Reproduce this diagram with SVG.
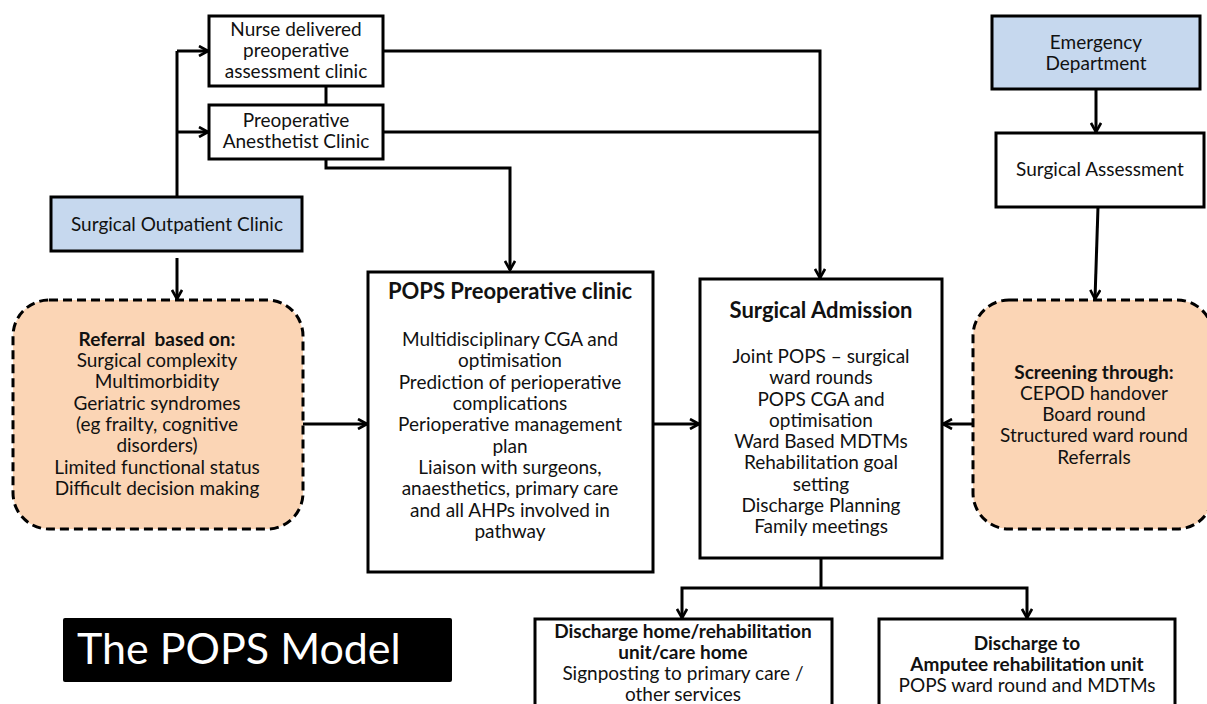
<svg xmlns="http://www.w3.org/2000/svg" width="1207" height="704" viewBox="0 0 1207 704">
<style>
text{font-family:Lato,"Liberation Sans",sans-serif;font-size:19px;fill:#111;text-anchor:middle}
.b{font-weight:bold}
.t{font-size:22px;font-weight:bold}
.box{fill:#fff;stroke:#000;stroke-width:3}
.blue{fill:#c6d8ee;stroke:#000;stroke-width:3}
.dash{fill:#fbd5b5;stroke:#000;stroke-width:3;stroke-dasharray:9 5}
.c{fill:none;stroke:#000;stroke-width:3}
.ca{fill:none;stroke:#000;stroke-width:3;marker-end:url(#ah)}
</style>
<defs>
<marker id="ah" viewBox="0 0 12 12" refX="10" refY="6" markerWidth="12" markerHeight="12" markerUnits="userSpaceOnUse" orient="auto">
<path d="M1,1 L10,6 L1,11" fill="none" stroke="#000" stroke-width="2.6"/>
</marker>
</defs>
<rect width="1207" height="704" fill="#fff"/>
<g id="connectors">
<path class="c" d="M326,86 V105"/>
<path class="c" d="M177,197 V51"/>
<path class="ca" d="M177,51 H208"/>
<path class="ca" d="M177,132 H208"/>
<path class="c" d="M383,51 H820 V132"/>
<path class="c" d="M383,132 H820"/>
<path class="ca" d="M820,132 V278"/>
<path class="ca" d="M326,159 V168 H510 V270"/>
<path class="ca" d="M1096,89 V132"/>
<path class="ca" d="M1098,207 L1095,299"/>
<path class="ca" d="M177,258 V299"/>
<path class="ca" d="M303,424 H367"/>
<path class="ca" d="M653,424 H699"/>
<path class="ca" d="M973,424 H943"/>
<path class="c" d="M821,558 V588"/>
<path class="ca" d="M821,588 H682 V618"/>
<path class="ca" d="M821,588 H1027 V618"/>
</g>
<g id="nurse-clinic">
<rect class="box" x="209" y="16" width="174" height="70"/>
<text x="296" y="36">Nurse delivered</text>
<text x="296" y="57">preoperative</text>
<text x="296" y="78">assessment clinic</text>
</g>
<g id="anesthetist-clinic">
<rect class="box" x="209" y="105" width="174" height="54"/>
<text x="296" y="127">Preoperative</text>
<text x="296" y="148">Anesthetist Clinic</text>
</g>
<g id="outpatient-clinic">
<rect class="blue" x="51" y="197" width="251" height="54"/>
<text x="177" y="231">Surgical Outpatient Clinic</text>
</g>
<g id="emergency">
<rect class="blue" x="992" y="16" width="208" height="73"/>
<text x="1096" y="49">Emergency</text>
<text x="1096" y="70">Department</text>
</g>
<g id="surgical-assessment">
<rect class="box" x="996" y="133" width="208" height="74"/>
<text x="1100" y="176">Surgical Assessment</text>
</g>
<g id="referral">
<rect class="dash" x="13" y="300" width="290" height="229" rx="36"/>
<text class="b" x="157" y="346">Referral&#160; based on:</text>
<text x="157" y="367">Surgical complexity</text>
<text x="157" y="388">Multimorbidity</text>
<text x="157" y="410">Geriatric syndromes</text>
<text x="157" y="431">(eg frailty, cognitive</text>
<text x="157" y="452">disorders)</text>
<text x="157" y="474">Limited functional status</text>
<text x="157" y="495">Difficult decision making</text>
</g>
<g id="pops-clinic">
<rect class="box" x="368" y="272" width="285" height="300"/>
<text class="t" x="510" y="299">POPS Preoperative clinic</text>
<text x="510" y="346">Multidisciplinary CGA and</text>
<text x="510" y="367">optimisation</text>
<text x="510" y="389">Prediction of perioperative</text>
<text x="510" y="410">complications</text>
<text x="510" y="431">Perioperative management</text>
<text x="510" y="453">plan</text>
<text x="510" y="474">Liaison with surgeons,</text>
<text x="510" y="495">anaesthetics, primary care</text>
<text x="510" y="517">and all AHPs involved in</text>
<text x="510" y="538">pathway</text>
</g>
<g id="surgical-admission">
<rect class="box" x="700" y="279" width="242" height="279"/>
<text class="t" x="821" y="318">Surgical Admission</text>
<text x="821" y="363">Joint POPS – surgical</text>
<text x="821" y="384">ward rounds</text>
<text x="821" y="406">POPS CGA and</text>
<text x="821" y="427">optimisation</text>
<text x="821" y="448">Ward Based MDTMs</text>
<text x="821" y="469">Rehabilitation goal</text>
<text x="821" y="491">setting</text>
<text x="821" y="512">Discharge Planning</text>
<text x="821" y="533">Family meetings</text>
</g>
<g id="screening">
<rect class="dash" x="973" y="300" width="240" height="229" rx="36"/>
<text class="b" x="1094" y="379">Screening through:</text>
<text x="1094" y="400">CEPOD handover</text>
<text x="1094" y="421">Board round</text>
<text x="1094" y="442">Structured ward round</text>
<text x="1094" y="464">Referrals</text>
</g>
<g id="discharge-home">
<rect class="box" x="535" y="619" width="297" height="100"/>
<text class="b" x="683" y="638">Discharge home/rehabilitation</text>
<text class="b" x="683" y="659">unit/care home</text>
<text x="683" y="680">Signposting to primary care /</text>
<text x="683" y="701">other services</text>
</g>
<g id="discharge-amputee">
<rect class="box" x="879" y="619" width="296" height="100"/>
<text class="b" x="1027" y="650">Discharge to</text>
<text class="b" x="1027" y="671">Amputee rehabilitation unit</text>
<text x="1027" y="692">POPS ward round and MDTMs</text>
</g>
<g id="title">
<rect x="63" y="618" width="389" height="64" rx="2" fill="#000"/>
<text x="77" y="664" style="font-size:43px;fill:#fff;text-anchor:start">The POPS Model</text>
</g>
</svg>
